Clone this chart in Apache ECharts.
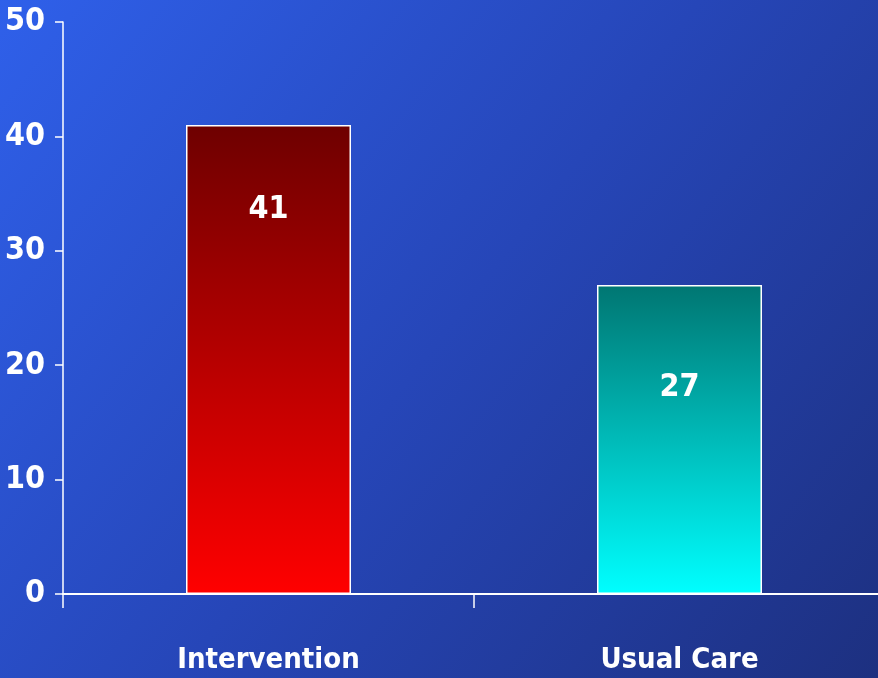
<!DOCTYPE html>
<html>
<head>
<meta charset="utf-8">
<script src="https://cdn.jsdelivr.net/npm/echarts@6/dist/echarts.min.js"></script>
<style>
  html, body { margin: 0; padding: 0; }
  #chart { width: 878px; height: 678px; }
</style>
</head>
<body>
<div id="chart"></div>
<script>
const categories = ['Intervention', 'Usual Care'];
const values = [41, 27];
const topColors = ['#6e0000', '#007672'];
const bottomColors = ['#ff0000', '#00ffff'];
const labelDistance = [69, 87];

const font = '"DejaVu Sans Condensed", "DejaVu Sans", sans-serif';
const chart = echarts.init(document.getElementById('chart'));

const option = {
    backgroundColor: new echarts.graphic.LinearGradient(0, 0, 1, 1, [
        { offset: 0, color: '#2f60ea' },
        { offset: 0.5, color: '#2646b8' },
        { offset: 1, color: '#1d3080' }
    ]),
    // the plot runs a little past the right edge of the picture
    grid: { left: 63, right: -7, top: 22, bottom: 84, outerBoundsMode: 'none', containLabel: false },
    xAxis: {
        type: 'category',
        data: categories,
        axisLine: { lineStyle: { color: '#ffffff', width: 2 } },
        axisTick: { show: true, interval: 0, length: 14, lineStyle: { color: 'rgba(255,255,255,0.75)', width: 2 } },
        axisLabel: {
            color: '#ffffff', fontFamily: font, fontWeight: 'bold', fontSize: 29,
            margin: 52
        }
    },
    yAxis: {
        type: 'value',
        min: 0, max: 50, interval: 10,
        splitLine: { show: false },
        axisLine: { show: true, lineStyle: { color: '#ffffff', width: 1.5 } },
        axisTick: { show: true, length: 8, lineStyle: { color: '#ffffff', width: 1.5 } },
        axisLabel: {
            color: '#ffffff', fontFamily: font, fontWeight: 'bold', fontSize: 32,
            margin: 18
        }
    },
    series: [{
        type: 'bar',
        barWidth: 165,
        data: values.map((v, i) => ({
            value: v,
            itemStyle: {
                color: new echarts.graphic.LinearGradient(0, 0, 0, 1, [
                    { offset: 0, color: topColors[i] },
                    { offset: 1, color: bottomColors[i] }
                ]),
                borderColor: '#ffffff',
                borderWidth: 1.5
            },
            label: { distance: labelDistance[i] }
        })),
        label: {
            show: true,
            position: 'insideTop',
            color: '#ffffff',
            fontFamily: font,
            fontWeight: 'bold',
            fontSize: 32
        }
    }]
};
chart.setOption(option);
</script>
</body>
</html>
